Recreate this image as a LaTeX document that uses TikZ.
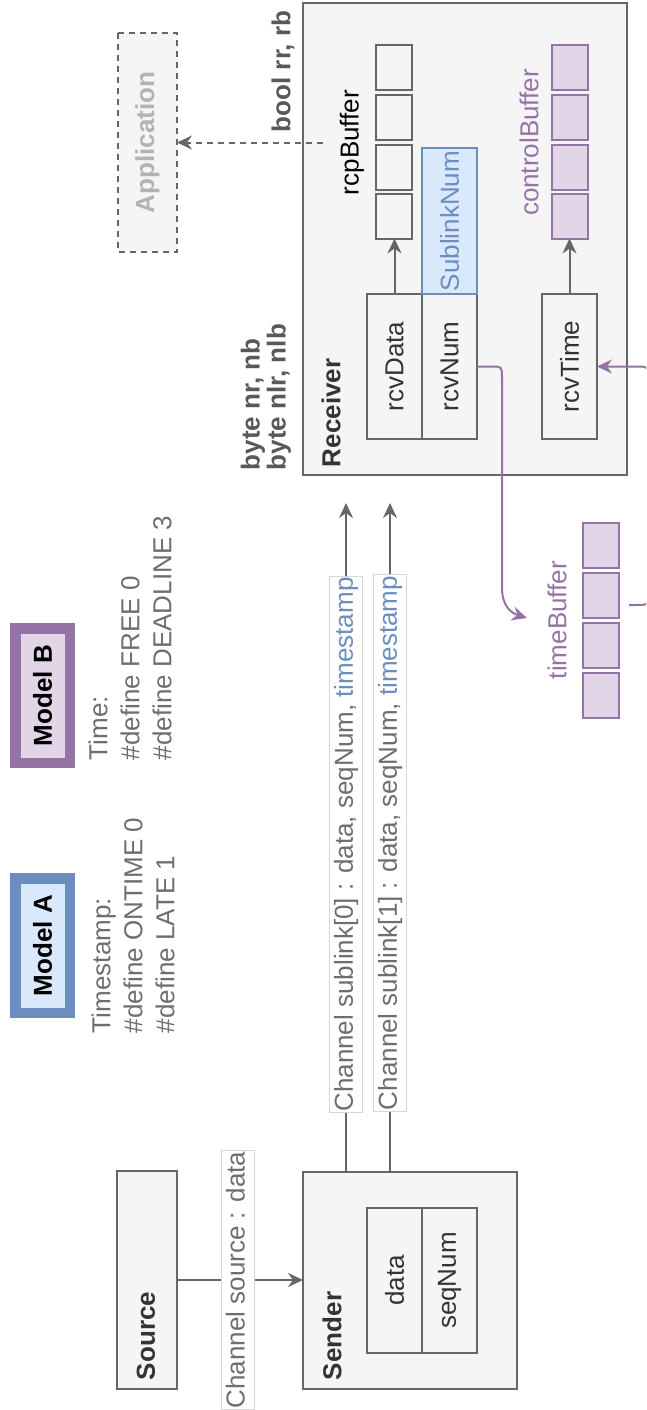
\documentclass[tikz,border=0pt]{standalone}
\usepackage{fontspec}
\setmainfont{Liberation Sans}
\usetikzlibrary{arrows.meta}

\definecolor{lineg}{HTML}{666666}
\definecolor{boxfill}{HTML}{F5F5F5}
\definecolor{txtdark}{HTML}{333333}
\definecolor{txtmid}{HTML}{595959}
\definecolor{txtgray}{HTML}{6E6E6E}
\definecolor{bluefill}{HTML}{DAE8FC}
\definecolor{bluedraw}{HTML}{6C8EBF}
\definecolor{purfill}{HTML}{E1D5E7}
\definecolor{purdraw}{HTML}{9673A6}
\definecolor{appgray}{HTML}{B3B3B3}
\definecolor{labframe}{HTML}{D6D6D6}

\tikzset{
  every node/.style={font=\fontsize{26}{32}\selectfont, inner sep=0pt, outer sep=0pt},
  bold/.style={font=\fontsize{26}{32}\selectfont\bfseries},
  % upright box whose text runs bottom to top: #1 = width on the page, #2 = height on the page
  vbox/.style 2 args={rotate=90, minimum width=#2, minimum height=#1},
  box/.style={draw=lineg, fill=boxfill, line width=2pt, text=txtdark},
  bluebox/.style={draw=bluedraw, fill=bluefill, line width=2pt, text=bluedraw},
  cell/.style={draw=lineg, fill=boxfill, line width=2pt, minimum width=36, minimum height=45},
  pcell/.style={draw=purdraw, fill=purfill, line width=2pt, minimum width=36, minimum height=45},
  arr/.style={draw=lineg, line width=2pt, -{Stealth[length=15pt, width=14pt, inset=5pt]}},
  parr/.style={draw=purdraw, line width=2pt, -{Stealth[length=15pt, width=14pt, inset=5pt]}},
  chlabel/.style={rotate=90, fill=white, draw=labframe, line width=0.8pt, text=txtgray,
    text height=19pt, text depth=5.5pt, inner xsep=1pt, inner ysep=4pt},
  vtext/.style={rotate=90},
}

\begin{document}
\begin{tikzpicture}[x=1pt, y=-1pt]
\useasboundingbox (0,0) rectangle (646,1410);
\fill[white] (0,0) rectangle (646,1410);
\clip (0,0) rectangle (646,1410);

% ---------- model legends ----------
\node[vbox={54.5}{134.5}, draw=purdraw, fill=purfill, line width=10.5pt, bold, text=black] (modelB) at (42.5,695.5) {Model B};
\node[vbox={54.5}{134.5}, draw=bluedraw, fill=bluefill, line width=10.5pt, bold, text=black] (modelA) at (42.5,945.5) {Model A};

\node[vtext, anchor=west, align=left, text=txtgray] (defsB) at (130,760) {Time:\\\#define FREE 0\\\#define DEADLINE 3};
\node[vtext, anchor=west, align=left, text=txtgray] (defsA) at (133,1033) {Timestamp:\\\#define ONTIME 0\\\#define LATE 1};

% ---------- application ----------
\node[vbox={59}{219}, draw=lineg, fill=boxfill, line width=2pt, dash pattern=on 6pt off 5pt, bold, text=appgray] (app) at (147.5,142.5) {Application};
\node[vtext, bold, text=txtmid] (boolrr) at (283,71.5) {bool rr, rb};

% ---------- receiver ----------
\node[draw=lineg, fill=boxfill, line width=2pt, minimum width=324, minimum height=472] (receiver) at (465,239) {};
\node[vtext, anchor=west, bold, text=txtdark] (recvTitle) at (331,467) {Receiver};
\node[vtext, anchor=west, align=left, font=\fontsize{26}{26}\selectfont\bfseries, text=txtmid] (bytes) at (266,470) {byte nr, nb\\byte nlr, nlb};

\node[vbox={55}{145}, box] (rcvData) at (394.5,366.5) {rcvData};
\node[vbox={55}{145}, box] (rcvNum) at (449.5,366.5) {rcvNum};
\node[vbox={55}{146}, bluebox] (sublinkNum) at (449.5,221) {SublinkNum};
\node[vbox={55}{145}, box] (rcvTime) at (569.5,366.5) {rcvTime};

\foreach \i/\yy in {1/68,2/117.5,3/167,4/216}{
  \node[cell] (rcp\i) at (394,\yy) {};
  \node[pcell] (ctl\i) at (570,\yy) {};
}
\node[vtext, text=black] (rcpLabel) at (352,142.5) {rcpBuffer};
\node[vtext, text=purdraw] (ctlLabel) at (529,142.5) {controlBuffer};

\draw[arr] (rcvData.east) -- (rcvData.east |- rcp4.south);
\draw[arr] (rcvTime.east) -- (rcvTime.east |- ctl4.south);

% request to the application
\coordinate (appSrc) at (323,142.5);
\draw[arr, dash pattern=on 6pt off 5pt] (appSrc) -- (app.south);

% ---------- time buffer ----------
\foreach \i/\yy in {1/545.5,2/595.5,3/645.5,4/695.5}{
  \node[pcell] (tb\i) at (600.5,\yy) {};
}
\node[vtext, text=purdraw] (tbLabel) at (557,620) {timeBuffer};

\coordinate (tbIn) at (527,618);
\draw[parr] (rcvNum.south) -- (491,366.5) .. controls (502,366.5) .. (502,378)
  -- (502,588) .. controls (502,606) and (511,613) .. (tbIn);

\coordinate (tbOut) at (629,605);
\draw[parr] (tbOut) -- (636,605) .. controls (648,605) .. (648,593)
  -- (648,380) .. controls (648,366.5) .. (636,366.5) -- (rcvTime.south);

% ---------- source and sender ----------
\node[draw=lineg, fill=boxfill, line width=2pt, minimum width=60, minimum height=218] (source) at (147,1280) {};
\node[vtext, anchor=west, bold, text=txtdark] (srcTitle) at (146,1380) {Source};

\node[draw=lineg, fill=boxfill, line width=2pt, minimum width=214, minimum height=217] (sender) at (410,1280.5) {};
\node[vtext, anchor=west, bold, text=txtdark] (sndTitle) at (332,1380) {Sender};
\node[vbox={55}{145}, box] (sData) at (394.5,1280.5) {data};
\node[vbox={55}{145}, box] (sSeq) at (449.5,1280.5) {seqNum};

\draw[arr] (source.east) -- node[chlabel, pos=0.484] (chSrc) {Channel source : data} (source.east -| sender.west);

% ---------- sublinks ----------
\coordinate (sl0) at (346,503);
\coordinate (sl1) at (390,503);
\draw[arr] (sl0 |- sender.north) -- node[chlabel, pos=0.4895] (ch0)
  {Channel sublink[0] : data, seqNum, \textcolor{bluedraw}{timestamp}} (sl0);
\draw[arr] (sl1 |- sender.north) -- node[chlabel, pos=0.4918] (ch1)
  {Channel sublink[1] : data, seqNum, \textcolor{bluedraw}{timestamp}} (sl1);

\end{tikzpicture}
\end{document}
